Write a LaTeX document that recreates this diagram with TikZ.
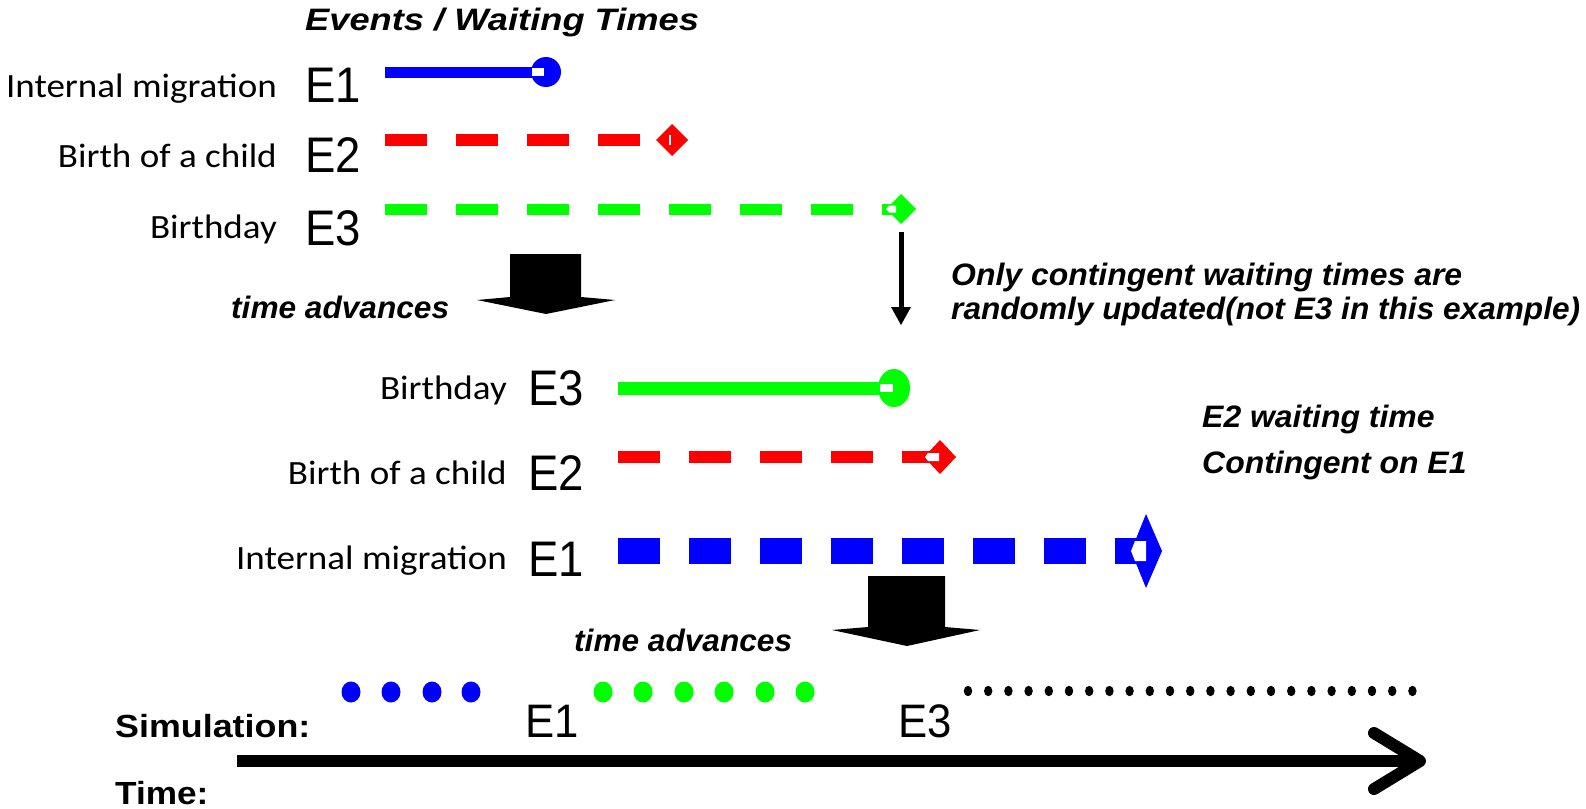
\documentclass[tikz,border=0pt]{standalone}
\usepackage{fontspec}
\usepackage{graphicx}
\newfontfamily\lblfont{Carlito}
\newfontfamily\arfont{Liberation Sans}
\newcommand\hstretch[2]{\scalebox{#1}[1]{#2}}
\definecolor{evblue}{RGB}{0,0,255}
\definecolor{evred}{RGB}{255,0,0}
\definecolor{evgreen}{RGB}{0,255,0}
\tikzset{
  lbl/.style={font=\lblfont\fontsize{34}{40}\selectfont, anchor=base east, inner sep=0pt},
  evl/.style={font=\arfont\fontsize{50}{60}\selectfont, anchor=base west, inner sep=0pt},
  note/.style={font=\arfont\bfseries\itshape\fontsize{31}{37}\selectfont, anchor=base west, inner sep=0pt, align=left},
  axlbl/.style={font=\arfont\bfseries\fontsize{32}{38}\selectfont, anchor=base west, inner sep=0pt},
  dashline/.style={dash pattern=on 42pt off 29pt},
  notch/.style={fill=white, draw=none},
  bigarrow/.style={fill=black},
}
\begin{document}
\begin{tikzpicture}[x=1pt,y=-1pt]
\useasboundingbox (0,0) rectangle (1586,808);

% heading
\node[note] (title) at (305,31) {\hstretch{1.17}{Events / Waiting Times}};

% ---- waiting times before the step ----
\node[lbl] (l1) at (277,97) {\hstretch{1.09}{Internal migration}};
\node[evl] (e1) at (305,102) {\hstretch{0.91}{E1}};
\node[lbl] (l2) at (277,167) {\hstretch{1.09}{Birth of a child}};
\node[evl] (e2) at (305,172) {\hstretch{0.91}{E2}};
\node[lbl] (l3) at (277,238) {\hstretch{1.09}{Birthday}};
\node[evl] (e3) at (305,245) {\hstretch{0.91}{E3}};

% E1: solid blue, round end
\coordinate (a1s) at (385,72);
\coordinate (a1e) at (546,72);
\draw[evblue, line width=11pt] (a1s) -- ([xshift=-6pt]a1e);
\fill[evblue] (a1e) circle (15);
\fill[notch] (532,68) rectangle (544,76);

% E2: dashed red, diamond end
\coordinate (a2s) at (385,140);
\coordinate (a2e) at (672,140);
\draw[evred, line width=12pt, dashline] (a2s) -- (640,140);
\fill[evred] (656,140) -- (672,124) -- (688,140) -- (672,156) -- cycle;
\draw[white, line width=1.5pt] (670,135) -- (670,145);

% E3: dashed green, diamond end
\coordinate (a3s) at (385,209);
\coordinate (a3e) at (901,209);
\draw[evgreen, line width=11pt, dashline] (a3s) -- (893,209);
\fill[evgreen] (886,209) -- (901,194) -- (916,209) -- (901,224) -- cycle;
\fill[notch] (886,209) -- (889,205.5) -- (896,205.5) -- (896,212.5) -- (889,212.5) -- cycle;

% small arrow from E3 down to the next state
\coordinate (sa1) at (901,232);
\coordinate (sa2) at (901,325);
\draw[black, line width=5pt] (sa1) -- (901,307);
\fill[black] (891,307) -- (911,307) -- (sa2) -- cycle;

\node[note] (upd) at (951,285) {\hstretch{1.03}{Only contingent waiting times are}};
\node[note] (upd2) at (951,319) {\hstretch{1.02}{randomly updated(not E3 in this example)}};

% first step of time
\fill[bigarrow] (510,254) -- (581,254) -- (581,297) -- (615,300) -- (546,314) -- (477,300) -- (510,297) -- cycle;
\node[note] (adv1) at (231,318) {\hstretch{1.02}{time advances}};

% ---- waiting times after the step ----
\node[lbl] (m3) at (507,399) {\hstretch{1.09}{Birthday}};
\node[evl] (f3) at (528,405) {\hstretch{0.91}{E3}};
\node[lbl] (m2) at (507,484) {\hstretch{1.09}{Birth of a child}};
\node[evl] (f2) at (528,490) {\hstretch{0.91}{E2}};
\node[lbl] (m1) at (507,569) {\hstretch{1.09}{Internal migration}};
\node[evl] (f1) at (528,576) {\hstretch{0.91}{E1}};

% E3: solid green, round end
\coordinate (b3s) at (618,388);
\coordinate (b3e) at (894,388);
\draw[evgreen, line width=13pt] (b3s) -- ([xshift=-6pt]b3e);
\fill[evgreen] (b3e) ellipse [x radius=16, y radius=19];
\fill[notch] (880,384) rectangle (893,392);

% E2: dashed red, diamond end
\coordinate (b2s) at (618,457);
\coordinate (b2e) at (940,457);
\draw[evred, line width=12pt, dashline] (b2s) -- (939,457);
\fill[evred] (924,457) -- (940,440) -- (956,457) -- (940,474) -- cycle;
\fill[notch] (925,457) -- (928,453) -- (939,453) -- (939,461) -- (928,461) -- cycle;

% E1: dashed blue, wide kite end
\coordinate (b1s) at (618,551);
\coordinate (b1e) at (1146,551);
\draw[evblue, line width=26pt, dashline] (b1s) -- (1146,551);
\fill[evblue] (1131,551) -- (1146,514) -- (1162,551) -- (1146,588) -- cycle;
\fill[notch] (1131,551) -- (1135,541) -- (1146,541) -- (1146,561) -- (1135,561) -- cycle;

\node[note] (cnt1) at (1202,427) {\hstretch{1.03}{E2 waiting time}};
\node[note] (cnt2) at (1202,473) {\hstretch{1.03}{Contingent on E1}};

% second step of time
\fill[bigarrow] (868,576) -- (945,576) -- (945,627) -- (980,630) -- (907,646) -- (832,630) -- (868,627) -- cycle;
\node[note] (adv2) at (574,651) {\hstretch{1.02}{time advances}};

% ---- simulated time line ----
\node[axlbl] (sim) at (115,737) {\hstretch{1.12}{Simulation:}};
\node[axlbl] (tim) at (115,804) {\hstretch{1.1}{Time:}};
\node[evl, font=\arfont\fontsize{47}{56}\selectfont] (s1) at (525,737) {\hstretch{0.93}{E1}};
\node[evl, font=\arfont\fontsize{47}{56}\selectfont] (s3) at (898,737) {\hstretch{0.93}{E3}};

\foreach \x in {351,391,432,471} \fill[evblue] (\x,692) ellipse [x radius=9.5, y radius=10.5];
\foreach \x in {603,643,684,724,765,805} \fill[evgreen] (\x,692) ellipse [x radius=9.5, y radius=10.5];
\foreach \i in {0,...,22} \fill[black] (968+20.2*\i,691) ellipse [x radius=4.2, y radius=5.2];

\coordinate (t0) at (237,761);
\coordinate (t1) at (1424,761);
\draw[black, line width=12pt] (t0) -- ([xshift=-8pt]t1);
\draw[black, line width=12pt, line cap=round, line join=round] (1374,733) -- ([xshift=-4pt]t1) -- (1374,789);
\end{tikzpicture}
\end{document}
